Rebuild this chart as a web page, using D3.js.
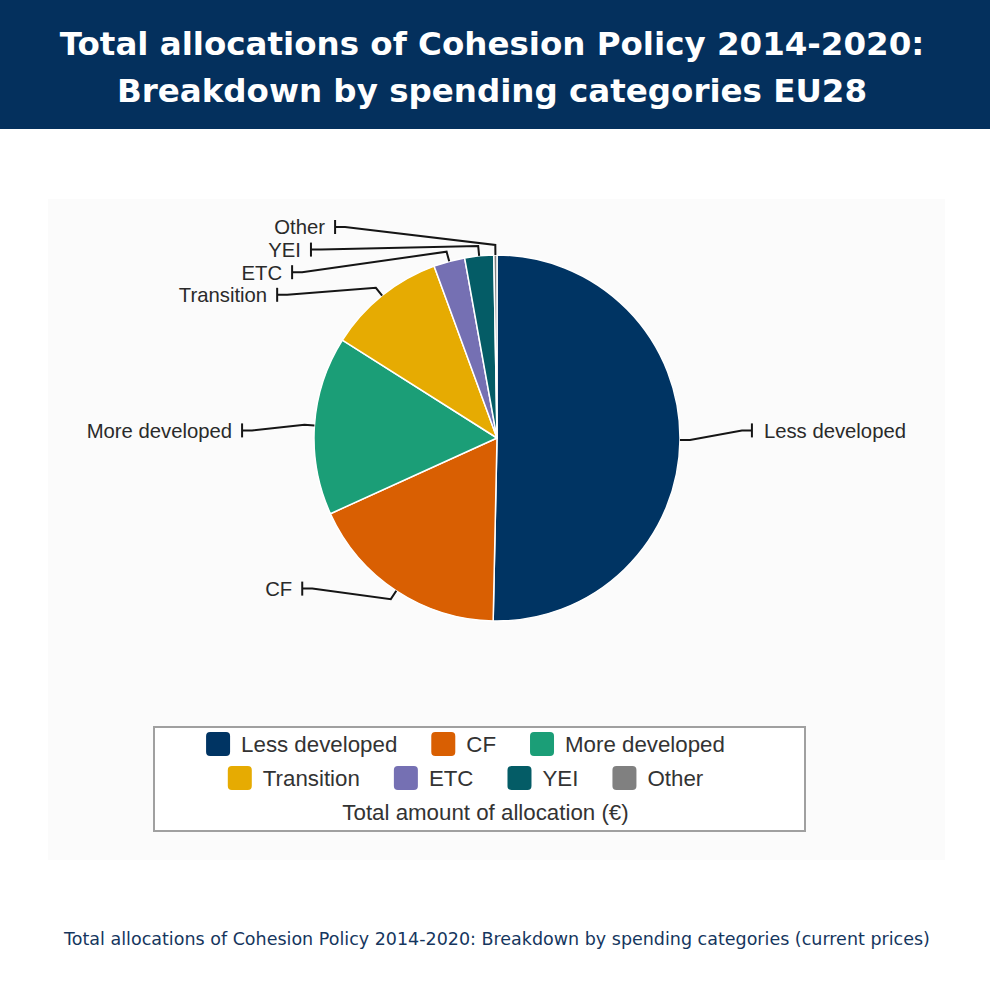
<!DOCTYPE html>
<html>
<head>
<meta charset="utf-8">
<script src="https://cdn.jsdelivr.net/npm/d3@7"></script>
<style>
  body { margin: 0; background: #fff; }
  svg { display: block; }
</style>
</head>
<body>
<div id="chart"></div>
<script>
// Values, EUR billions (estimates)
const categories = ["Less developed", "CF", "More developed", "Transition", "ETC", "YEI", "Other"];
const allocations = [181.3, 64.4, 56.8, 37.6, 9.9, 9.2, 1.0];
const sliceColors = ["#003463", "#d95f02", "#1b9e77", "#e6ab02", "#7570b3", "#045c66", "#808080"];

const titleLines = ["Total allocations of Cohesion Policy 2014-2020:", "Breakdown by spending categories EU28"];
const legendTitle = "Total amount of allocation (€)";
const caption = "Total allocations of Cohesion Policy 2014-2020: Breakdown by spending categories (current prices)";

const W = 990, H = 990;
const cx = 497, cy = 438, r = 183;
const labelR = r + 72;       // where label ends sit
const slotTop = cy - 211, slotH = 22.6, slotCount = 17;

const svg = d3.select("#chart").append("svg")
  .attr("width", W).attr("height", H)
  .attr("viewBox", [0, 0, W, H]);

// header banner
svg.append("rect").attr("x", 0).attr("y", 0).attr("width", W).attr("height", 129).attr("fill", "#04305d");
svg.append("g").selectAll("text")
  .data(titleLines)
  .join("text")
  .attr("x", 492)
  .attr("y", (d, i) => 55 + i * 47)
  .attr("text-anchor", "middle")
  .attr("fill", "#fff")
  .style("font", "bold 32.5px 'DejaVu Sans', Verdana, sans-serif")
  .text(d => d);

// chart panel
svg.append("rect").attr("x", 48).attr("y", 199).attr("width", 897).attr("height", 661).attr("fill", "#fbfbfb");

// pie
const pie = d3.pie().sort(null).value(d => d.value);
const arcs = pie(categories.map((c, i) => ({ name: c, value: allocations[i], color: sliceColors[i] })));
const arc = d3.arc().innerRadius(0).outerRadius(r);

const g = svg.append("g").attr("transform", `translate(${cx},${cy})`);
g.selectAll("path")
  .data(arcs)
  .join("path")
  .attr("d", arc)
  .attr("fill", d => d.data.color)
  .attr("stroke", "#fff")
  .attr("stroke-width", 1.5)
  .attr("stroke-linejoin", "round");

// label layout: slot based, like the original chart
const polar = (a, rad) => [cx + rad * Math.sin(a), cy - rad * Math.cos(a)];
const labels = arcs.map(d => {
  const mid = (d.startAngle + d.endAngle) / 2;
  const left = Math.sin(mid) < 0;
  const natY = cy - labelR * Math.cos(mid);
  return { d, mid, left, natY };
});

["left", "right"].forEach(side => {
  const taken = new Set();
  labels.filter(l => (side === "left") === l.left)
    .sort((a, b) => a.natY - b.natY)
    .forEach(l => {
      let want = Math.max(0, Math.min(slotCount - 1, Math.round((l.natY - slotTop) / slotH)));
      let best = null;
      for (let k = 0; k < slotCount; k++) {
        if (taken.has(k)) continue;
        if (best === null || Math.abs(k - want) < Math.abs(best - want)) best = k;
      }
      taken.add(best);
      l.y = slotTop + best * slotH;
    });
});

labels.forEach(l => {
  const dy = l.y + 14 - cy;
  const dx = Math.sqrt(Math.max(0, labelR * labelR - dy * dy));
  l.x = l.left ? cx - dx : cx + dx;
  l.anchor = polar(l.mid, r);
  l.crook = polar(l.mid, r + 10);
});

const lg = svg.append("g");
lg.selectAll("path.conn")
  .data(labels)
  .join("path")
  .attr("class", "conn")
  .attr("fill", "none")
  .attr("stroke", "#151515")
  .attr("stroke-width", 2)
  .attr("d", l => {
    const s = l.left ? 10 : -10;
    return `M${l.x},${l.y}L${l.x + s},${l.y}L${l.crook[0]},${l.crook[1]}L${l.anchor[0]},${l.anchor[1]}`;
  });
lg.selectAll("line.tick")
  .data(labels)
  .join("line")
  .attr("class", "tick")
  .attr("x1", l => l.x).attr("x2", l => l.x)
  .attr("y1", l => l.y - 7).attr("y2", l => l.y + 7)
  .attr("stroke", "#151515")
  .attr("stroke-width", 2);
lg.selectAll("text")
  .data(labels)
  .join("text")
  .attr("x", l => l.left ? l.x - 10 : l.x + 12)
  .attr("y", l => l.y)
  .attr("dy", "0.36em")
  .attr("text-anchor", l => l.left ? "end" : "start")
  .attr("fill", "#2a2a2a")
  .style("font", "20.3px 'Liberation Sans', Arial, sans-serif")
  .text(l => l.d.data.name);

// legend
const box = { x: 154, y: 727, w: 651, h: 104 };
svg.append("rect")
  .attr("x", box.x).attr("y", box.y).attr("width", box.w).attr("height", box.h)
  .attr("fill", "#fff").attr("stroke", "#a0a0a0").attr("stroke-width", 2);

const sw = 24, gap = 11, itemSpacing = 34, rowH = 34, row0 = 744;
const leg = svg.append("g");
const items = leg.selectAll("g.item")
  .data(arcs.map(d => d.data))
  .join("g")
  .attr("class", "item");
items.append("rect")
  .attr("width", sw).attr("height", sw).attr("rx", 4)
  .attr("y", -sw / 2)
  .attr("fill", d => d.color);
items.append("text")
  .attr("x", sw + gap)
  .attr("dy", "0.36em")
  .attr("fill", "#333")
  .style("font", "22.3px 'Liberation Sans', Arial, sans-serif")
  .text(d => d.name);

const rows = [];
let cur = [], curW = 0;
items.each(function(d) {
  const w = sw + gap + this.querySelector("text").getComputedTextLength() + itemSpacing;
  if (cur.length && curW + w > box.w - 32) { rows.push({ list: cur, w: curW }); cur = []; curW = 0; }
  cur.push({ node: this, w });
  curW += w;
});
rows.push({ list: cur, w: curW });
rows.forEach((row, ri) => {
  let x = box.x + box.w / 2 - (row.w - 6) / 2;
  row.list.forEach(it => {
    d3.select(it.node).attr("transform", `translate(${x},${row0 + ri * rowH})`);
    x += it.w;
  });
});
leg.append("text")
  .attr("x", box.x + box.w / 2 + 6)
  .attr("y", row0 + rows.length * rowH)
  .attr("dy", "0.36em")
  .attr("text-anchor", "middle")
  .attr("fill", "#333")
  .style("font", "22.3px 'Liberation Sans', Arial, sans-serif")
  .text(legendTitle);

// caption
svg.append("text")
  .attr("x", 497).attr("y", 945)
  .attr("text-anchor", "middle")
  .attr("fill", "#15365e")
  .style("font", "17.5px 'DejaVu Sans', Verdana, sans-serif")
  .text(caption);
</script>
</body>
</html>
